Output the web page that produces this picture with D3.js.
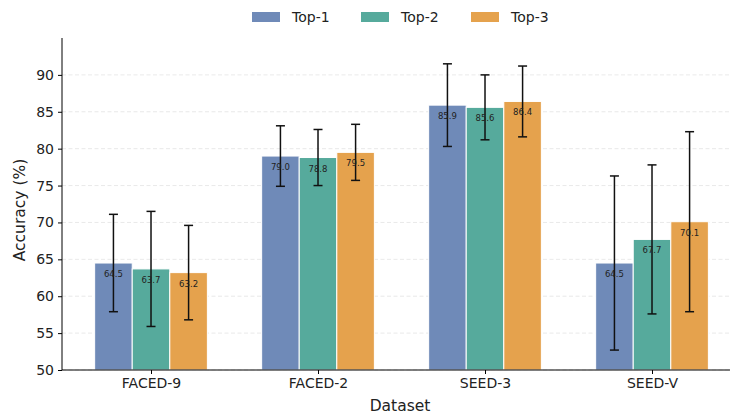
<!DOCTYPE html>
<html>
<head>
<meta charset="utf-8">
<script src="https://cdn.jsdelivr.net/npm/d3@7"></script>
<style>
  body { margin: 0; background: #fff; }
  svg { font-family: "DejaVu Sans", sans-serif; }
</style>
</head>
<body>
<div id="chart"></div>
<script>
// data
var datasets = ["FACED-9", "FACED-2", "SEED-3", "SEED-V"];
var seriesNames = ["Top-1", "Top-2", "Top-3"];
var top1 = [64.5, 79.0, 85.9, 64.5];
var top2 = [63.7, 78.8, 85.6, 67.7];
var top3 = [63.2, 79.5, 86.4, 70.1];
var err1 = [6.6, 4.1, 5.6, 11.8];
var err2 = [7.8, 3.8, 4.4, 10.1];
var err3 = [6.4, 3.8, 4.8, 12.2];
var yTicks = [50, 55, 60, 65, 70, 75, 80, 85, 90];

var seriesValues = [top1, top2, top3];
var seriesErrors = [err1, err2, err3];
var colors = ["#6f8ab8", "#56aa9c", "#e5a24d"];

var svgWidth = 730, svgHeight = 414;
var margin = { top: 38, right: 0, bottom: 44, left: 62 };
var chartWidth = svgWidth - margin.left - margin.right;
var chartHeight = svgHeight - margin.top - margin.bottom;

var svg = d3.select("#chart").append("svg")
    .attr("width", svgWidth)
    .attr("height", svgHeight);

var chartGroup = svg.append("g")
    .attr("transform", `translate(${margin.left}, ${margin.top})`);

// x in "category index" units like matplotlib
var xScale = d3.scaleLinear()
    .domain([-0.533, datasets.length - 1 + 0.467])
    .range([0, chartWidth]);
var barW = 0.225;
var offsets = [-barW, 0, barW];

var yScale = d3.scaleLinear()
    .domain([50, 95])
    .range([chartHeight, 0]);

// grid
chartGroup.selectAll(".grid")
    .data(yTicks)
    .enter()
    .append("line")
    .attr("x1", 0)
    .attr("x2", chartWidth)
    .attr("y1", d => yScale(d))
    .attr("y2", d => yScale(d))
    .attr("stroke", "#e3e3e3")
    .attr("stroke-width", 0.8)
    .attr("stroke-dasharray", "4,2.5");

// bars
seriesValues.forEach(function(vals, s) {
    var g = chartGroup.append("g");
    g.selectAll("rect")
        .data(vals)
        .enter()
        .append("rect")
        .attr("x", (d, i) => xScale(i + offsets[s] - barW / 2))
        .attr("y", d => yScale(d))
        .attr("width", xScale(barW) - xScale(0))
        .attr("height", d => chartHeight - yScale(d))
        .attr("fill", colors[s])
        .attr("stroke", "#fff")
        .attr("stroke-width", 1);

    // error bars
    vals.forEach(function(d, i) {
        var cx = xScale(i + offsets[s]);
        var e = seriesErrors[s][i];
        var eb = g.append("g").attr("stroke", "#111").attr("stroke-width", 1.5);
        eb.append("line").attr("x1", cx).attr("x2", cx)
            .attr("y1", yScale(d + e)).attr("y2", Math.min(yScale(d - e), chartHeight));
        eb.append("line").attr("x1", cx - 4.5).attr("x2", cx + 4.5)
            .attr("y1", yScale(d + e)).attr("y2", yScale(d + e));
        if (d - e > 50) {
            eb.append("line").attr("x1", cx - 4.5).attr("x2", cx + 4.5)
                .attr("y1", yScale(d - e)).attr("y2", yScale(d - e));
        }
    });

    // value labels
    g.selectAll("text")
        .data(vals)
        .enter()
        .append("text")
        .attr("x", (d, i) => xScale(i + offsets[s]))
        .attr("y", d => yScale(d) + 14)
        .attr("text-anchor", "middle")
        .attr("font-size", 8.5)
        .attr("fill", "#222")
        .text(d => d.toFixed(1));
});

// axes
var yAxis = d3.axisLeft(yScale).tickValues(yTicks).tickSize(4).tickPadding(4);
var xAxis = d3.axisBottom(xScale).tickValues(d3.range(datasets.length))
    .tickFormat(i => datasets[i]).tickSize(4).tickPadding(4);

var yG = chartGroup.append("g").call(yAxis);
var xG = chartGroup.append("g")
    .attr("transform", `translate(0, ${chartHeight})`)
    .call(xAxis);

[yG, xG].forEach(function(a) {
    a.selectAll("path").attr("stroke", "#000").attr("stroke-width", 1);
    a.selectAll("line").attr("stroke", "#000");
    a.selectAll("text").attr("font-size", 14).attr("fill", "#222")
        .attr("font-family", "DejaVu Sans, sans-serif");
});
// only left + bottom spine
yG.select("path").attr("d", `M0,0V${chartHeight}`);
xG.select("path").attr("d", `M0,0H${chartWidth}`);

// axis titles
svg.append("text")
    .attr("x", 400)
    .attr("y", 411)
    .attr("text-anchor", "middle")
    .attr("font-size", 15.5)
    .attr("fill", "#222")
    .text("Dataset");

svg.append("text")
    .attr("transform", `translate(25, ${margin.top + chartHeight / 2 + 6}) rotate(-90)`)
    .attr("text-anchor", "middle")
    .attr("font-size", 15.5)
    .attr("fill", "#222")
    .text("Accuracy (%)");

// legend
var legendX = [252, 361, 471];
var legend = svg.append("g");
seriesNames.forEach(function(name, s) {
    legend.append("rect")
        .attr("x", legendX[s]).attr("y", 12)
        .attr("width", 28).attr("height", 10)
        .attr("fill", colors[s]);
    legend.append("text")
        .attr("x", legendX[s] + 40).attr("y", 22)
        .attr("font-size", 14)
        .attr("fill", "#222")
        .text(name);
});
</script>
</body>
</html>
